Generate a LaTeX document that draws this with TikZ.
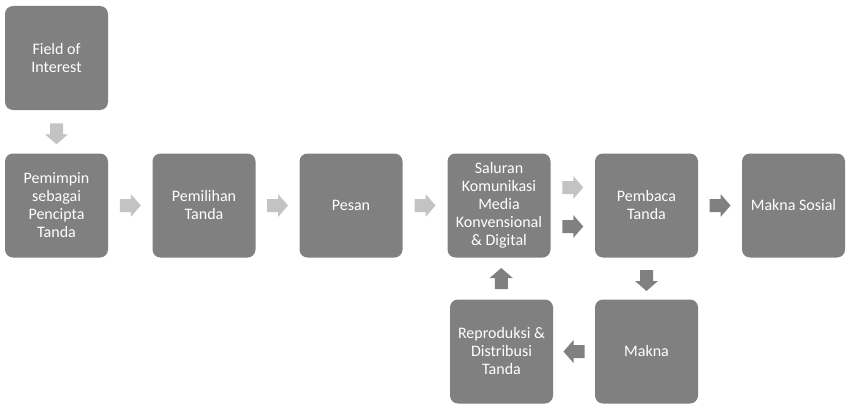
\documentclass[tikz,border=0pt]{standalone}
\usepackage{fontspec}
\setmainfont{Carlito}
\usetikzlibrary{calc}
\definecolor{boxgray}{HTML}{808080}
\definecolor{arrowlight}{HTML}{C3C3C3}
\definecolor{arrowdark}{HTML}{808080}
\begin{document}
\begin{tikzpicture}[x=1pt,y=-1pt,
  stepbox/.style={fill=boxgray, rounded corners=8pt, minimum width=103pt, minimum height=104pt,
    text=white, align=center, inner sep=2pt, font=\fontsize{16}{18}\selectfont},
  blockarrow/.pic={\fill (-10.5,-6.5) -- (0.5,-6.5) -- (0.5,-11.5) -- (10.5,0)
    -- (0.5,11.5) -- (0.5,6.5) -- (-10.5,6.5) -- cycle;}]
\useasboundingbox (0,0) rectangle (846,404);

% boxes, top row
\node[stepbox] (field) at (56.5,58) {Field of\\Interest};
\node[stepbox] (lead) at (56.5,205.5) {Pemimpin\\sebagai\\Pencipta\\Tanda};
\node[stepbox] (choice) at (204,205.5) {Pemilihan\\Tanda};
\node[stepbox] (msg) at (351,205.5) {Pesan};
\node[stepbox] (chan) at (499,205.5) {Saluran\\Komunikasi\\Media\\Konvensional\\\& Digital};
\node[stepbox] (reader) at (646.5,205.5) {Pembaca\\Tanda};
\node[stepbox] (social) at (793.5,205.5) {Makna Sosial};

% boxes, bottom row
\node[stepbox] (repro) at (501.5,351.5) {Reproduksi \&\\Distribusi\\Tanda};
\node[stepbox] (meaning) at (646.5,351.5) {Makna};

% light arrows
\pic[arrowlight, rotate=270] (a1) at ($(field.south)!0.5!(lead.north)+(0,2)$) {blockarrow};
\pic[arrowlight] (a2) at ($(lead.east)!0.5!(choice.west)$) {blockarrow};
\pic[arrowlight] (a3) at ($(choice.east)!0.5!(msg.west)$) {blockarrow};
\pic[arrowlight] (a4) at ($(msg.east)!0.5!(chan.west)$) {blockarrow};
\pic[arrowlight] (a5) at ($(chan.east)!0.5!(reader.west)+(0,-18)$) {blockarrow};

% dark arrows
\pic[arrowdark] (a6) at ($(chan.east)!0.5!(reader.west)+(0,21)$) {blockarrow};
\pic[arrowdark] (a7) at ($(reader.east)!0.5!(social.west)$) {blockarrow};
\pic[arrowdark, rotate=270] (a8) at ($(reader.south)!0.5!(meaning.north)+(0,2)$) {blockarrow};
\pic[arrowdark, rotate=180] (a9) at ($(meaning.west)!0.5!(repro.east)$) {blockarrow};
\pic[arrowdark, rotate=90] (a10) at ($(repro.north)!0.5!(chan.south)+(1,0)$) {blockarrow};

\end{tikzpicture}
\end{document}
